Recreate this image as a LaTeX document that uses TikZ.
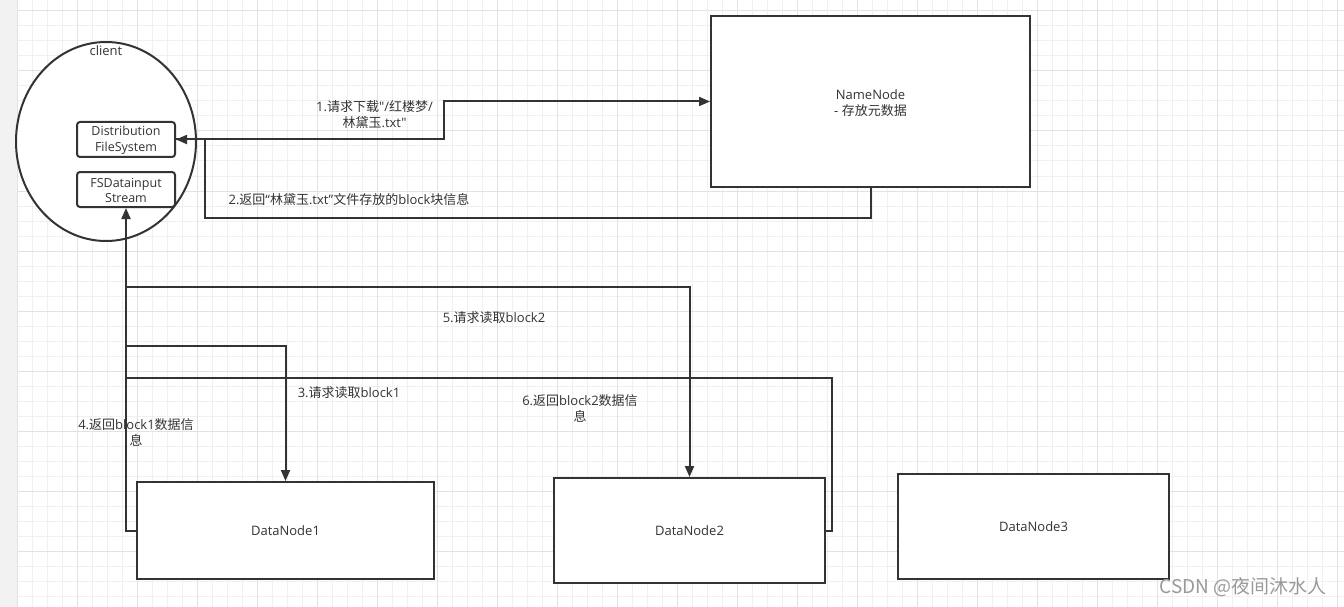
\documentclass[tikz,border=0pt]{standalone}
\usepackage{fontspec}
\setmainfont{Open Sans}[Ligatures=TeXOff]
\newfontfamily\cjk{Noto Sans CJK SC}
\newcommand\zh[1]{{\cjk #1}}
\usetikzlibrary{shapes.geometric,arrows.meta}
\definecolor{ink}{HTML}{333333}
\definecolor{gridminor}{HTML}{F0F0F0}
\definecolor{gridmajor}{HTML}{E2E2E2}
\definecolor{strip}{HTML}{F2F2F2}
\tikzset{
  box/.style={draw=ink, line width=2pt, fill=white, rectangle, inner sep=0pt},
  smallbox/.style={box, rounded corners=3pt, font=\fontsize{12.5}{15.5}\selectfont, text=ink, align=center},
  lbl/.style={font=\fontsize{13}{16}\selectfont, text=ink, align=center, inner sep=0pt},
  wire/.style={draw=ink, line width=2pt},
  arr/.style={wire, -{Triangle[length=11pt,width=9pt]}},
}
\begin{document}
\begin{tikzpicture}[x=1pt,y=-1pt]
\useasboundingbox (0,0) rectangle (1344,607);
\fill[white] (0,0) rectangle (1344,607);
% grid
\foreach \gx in {17,32,...,1344} {\draw[gridminor, line width=1pt] (\gx,0) -- (\gx,607);}
\foreach \gy in {11,26,...,607} {\draw[gridminor, line width=1pt] (17,\gy) -- (1344,\gy);}
\foreach \gx in {17,77,...,1344} {\draw[gridmajor, line width=1pt] (\gx,0) -- (\gx,607);}
\foreach \gy in {11,71,...,607} {\draw[gridmajor, line width=1pt] (17,\gy) -- (1344,\gy);}
\fill[strip] (0,0) rectangle (17,607);

% client
\node[ellipse, draw=ink, line width=2pt, fill=white, minimum width=180pt, minimum height=199pt, inner sep=0pt] (client) at (106,141.5) {};
\node[lbl] (clientlbl) at (106,50.5) {client};
\node[smallbox, minimum width=98pt, minimum height=35pt] (dfs) at (126,139.5) {\rule{0pt}{11pt}Distribution\\FileSystem};
\node[smallbox, minimum width=98pt, minimum height=35pt] (fsd) at (126,189.5) {\rule{0pt}{11pt}FSDatainput\\Stream};

% NameNode
\node[box, minimum width=319pt, minimum height=171pt, font=\fontsize{13}{16.5}\selectfont, text=ink, align=center] (nn) at (870.5,101.5) {\rule{0pt}{13pt}NameNode\\- \zh{存放元数据}};

% DataNodes
\node[box, minimum width=297pt, minimum height=97pt, font=\fontsize{13}{16}\selectfont, text=ink] (dn1) at (285.5,530.5) {DataNode1};
\node[box, minimum width=271pt, minimum height=105pt, font=\fontsize{13}{16}\selectfont, text=ink] (dn2) at (689.5,530.5) {DataNode2};
\node[box, minimum width=271pt, minimum height=105pt, font=\fontsize{13}{16}\selectfont, text=ink] (dn3) at (1033.5,526.5) {DataNode3};

% helper coordinates
\coordinate (r2) at (205,218);
\coordinate (j2) at (205,139.5);
\coordinate (s3) at (126,346);
\coordinate (s5) at (126,287);
\coordinate (e6) at (126,378);

% connectors
\draw[arr] (dfs.east) -- ++(268,0) |- (nn.west);
\draw[arr] (nn.south) |- (r2) -- (j2) -- (dfs.east);
\draw[arr] (dn1.west) -| (fsd.south);
\draw[arr] (s3) -| (dn1.north);
\draw[arr] (s5) -| (dn2.north);
\draw[wire] (dn2.east) -- ++(6,0) |- (e6);

% labels
\node[lbl] (l1) at (374.5,115) {1.\zh{请求下载}"/\zh{红楼梦}/\\\zh{林黛玉}.txt"};
\node[lbl] (l2) at (349,200) {2.\zh{返回}“\zh{林黛玉}.txt”\zh{文件存放的}block\zh{块信息}};
\node[lbl] (l3) at (349,393) {3.\zh{请求读取}block1};
\node[lbl] (l4) at (136,432.5) {4.\zh{返回}block1\zh{数据信}\\\zh{息}};
\node[lbl] (l5) at (494,318) {5.\zh{请求读取}block2};
\node[lbl] (l6) at (580,408) {6.\zh{返回}block2\zh{数据信}\\\zh{息}};

% watermark
\node[font=\cjk\fontsize{19}{21}\selectfont, text=black!40, inner sep=0pt] (wm) at (1243,587) {CSDN @夜间沐水人};
\end{tikzpicture}
\end{document}
